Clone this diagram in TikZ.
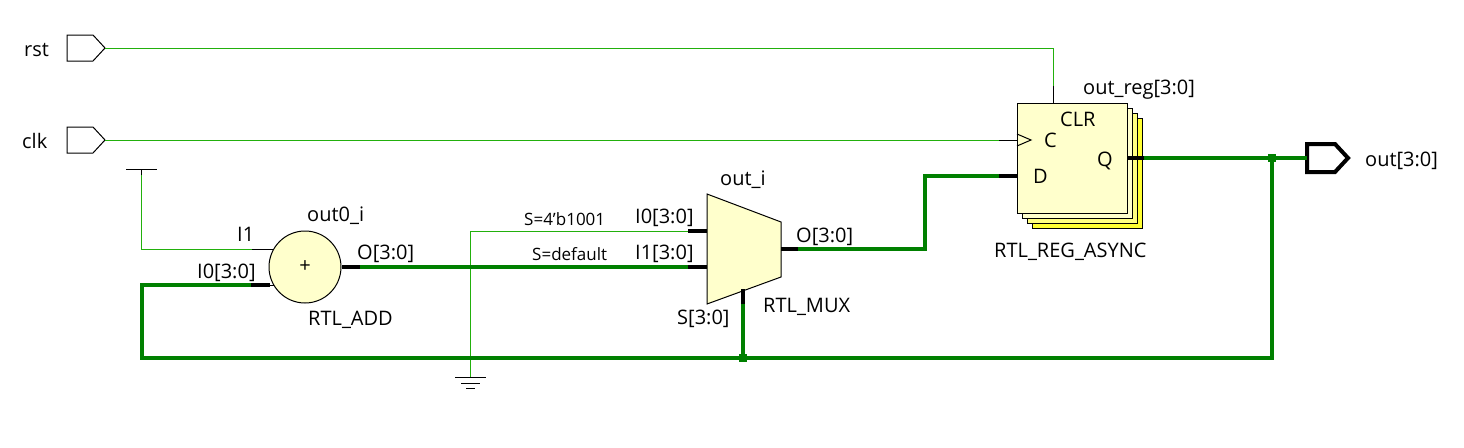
\documentclass[tikz,border=0pt]{standalone}
\usepackage{fontspec}
\setmainfont{Open Sans}
\usetikzlibrary{calc}
\definecolor{wiregreen}{HTML}{22B00C}
\definecolor{busgreen}{HTML}{008000}
\definecolor{cellpale}{HTML}{FFFFCC}
\definecolor{cellmid}{HTML}{FFFF80}
\definecolor{cellyellow}{HTML}{FFFF33}
\tikzset{
	wire/.style={wiregreen, line width=1pt},
	bus/.style={busgreen, line width=4pt},
	stub/.style={black, line width=1pt},
	busstub/.style={black, line width=4pt},
	cell/.style={draw=black, line width=1pt, fill=cellpale},
	lbl/.style={anchor=base west, inner sep=0pt, font=\fontsize{20}{24}\selectfont},
	smalllbl/.style={anchor=base west, inner sep=0pt, font=\fontsize{17}{20}\selectfont},
	jdot/.style={fill=busgreen, inner sep=0pt, minimum size=8pt},
}
\begin{document}
\begin{tikzpicture}[x=1pt, y=-1pt, line join=miter, line cap=butt]
	\useasboundingbox (0,0) rectangle (1464,447);
	\foreach \x/\y/\t in {105/48/rstO,105/140/clkO,1053/48/clrA,1053/86/clrB,1053/103/clrC,
		999/140/clkB,1017/140/clkC,141.5/169/vcc,141.5/175/vccB,141.5/249/iaA,252/249/iaB,273/249/iaC,
		142/285/ibA,142/358/ibB,251/285/ibC,270/285/ibD,274/285/ibE,360/267/addO,688/267/muxB,707/267/muxBin,
		470/231/muxA0,688/231/muxA,707/231/muxAin,470/377/gnd,781/249/muxO,798/249/muxOb,925/249/dA,925/176/dB,
		999/176/dC,1017/176/dD,1127/158/qA,1144/158/qB,1272/158/qJ,1307/158/outI,743/304/selA,743/289/selT,743/358/selJ,1272/358/loopC}
	\coordinate (\t) at (\x,\y);

	\foreach \k/\b in {3/cellyellow,2/cellmid,1/cellpale}
	\draw[cell, fill=\b] ($(1017,103)+(5*\k,5*\k)$) rectangle ++(110,110);
	\draw[cell] (1017,103) rectangle (1127,213);
	\draw[line width=1pt] (1017,134)--(1031,140)--(1017,146);

	\node[circle, cell, minimum size=72pt, inner sep=0pt, font=\fontsize{20}{24}\selectfont] (add) at (305,267) {+};
	\coordinate (addR) at (add.east);
	\draw[cell] (707,194)--(781,222)--(781,277)--(707,304)--cycle;

	\draw[line width=1pt] (67,35)--(93,35)--(105,48)--(93,61)--(67,61)--cycle;
	\draw[line width=1pt] (67,127)--(93,127)--(105,140)--(93,153)--(67,153)--cycle;
	\draw[line width=4pt] (1307,144)--(1335,144)--(1348,158)--(1335,172)--(1307,172)--cycle;

	\draw[wire] (rstO)--(clrA)--(clrB);
	\draw[stub] (clrB)--(clrC);
	\draw[wire] (clkO)--(clkB);
	\draw[stub] (clkB)--(clkC);
	\draw[stub] (126,169)--(157,169);
	\draw[stub] (vcc)--(vccB);
	\draw[wire] (vccB)--(iaA)--(iaB);
	\draw[stub] (iaB)--(iaC);
	\draw[wire] (muxA)--(muxA0)--(gnd);
	\draw[busstub] (muxA)--(muxAin);
	\draw[stub] (455,377)--(486,377);
	\draw[stub] (461,383)--(480,383);
	\draw[stub] (466,388)--(475,388);

	\draw[bus] (addO)--(muxB);
	\draw[busstub] (addR)--(addO);
	\draw[busstub] (muxB)--(muxBin);
	\draw[bus] (muxOb)--(dA)--(dB)--(dC);
	\draw[busstub] (muxO)--(muxOb);
	\draw[busstub] (dC)--(dD);
	\draw[busstub] (qA)--(qB);
	\draw[bus] (qB)--(outI);
	\draw[bus] (ibC)--(ibA)--(ibB)--(loopC)--(qJ);
	\draw[busstub] (ibC)--(ibD);
	\draw[stub] (ibD)--(ibE);
	\draw[bus] (selA)--(selJ);
	\draw[busstub] (selA)--(selT);
	\node[jdot] (jsel) at (selJ) {};
	\node[jdot] (jq) at (qJ) {};

	\foreach \x/\y/\n/\t in {24/56/rst/rst,22/148/clk/clk,307/221/addN/out0\_i,237/241/addA/I1,197/278/addB/{I0[3:0]},
		357/259/addC/{O[3:0]},308/325/addD/RTL\_ADD,635/223/muxE/{I0[3:0]},635/259/muxF/{I1[3:0]},720/185/muxN/out\_i,
		796/242/muxG/{O[3:0]},763/312/muxH/RTL\_MUX,677/324/muxI/{S[3:0]},1083/94/regN/{out\_reg[3:0]},1060/126/regA/CLR,
		1044/147/regB/C,1097/166/regC/Q,1033/183/regD/D,994/257/regE/RTL\_REG\_ASYNC,1365/166/outL/{out[3:0]}}
	\node[lbl] (l\n) at (\x,\y) {\t};
	\node[smalllbl] (ssel) at (524,225) {S=4'b1001};
	\node[smalllbl] (sdef) at (532,260) {S=default};
\end{tikzpicture}
\end{document}
